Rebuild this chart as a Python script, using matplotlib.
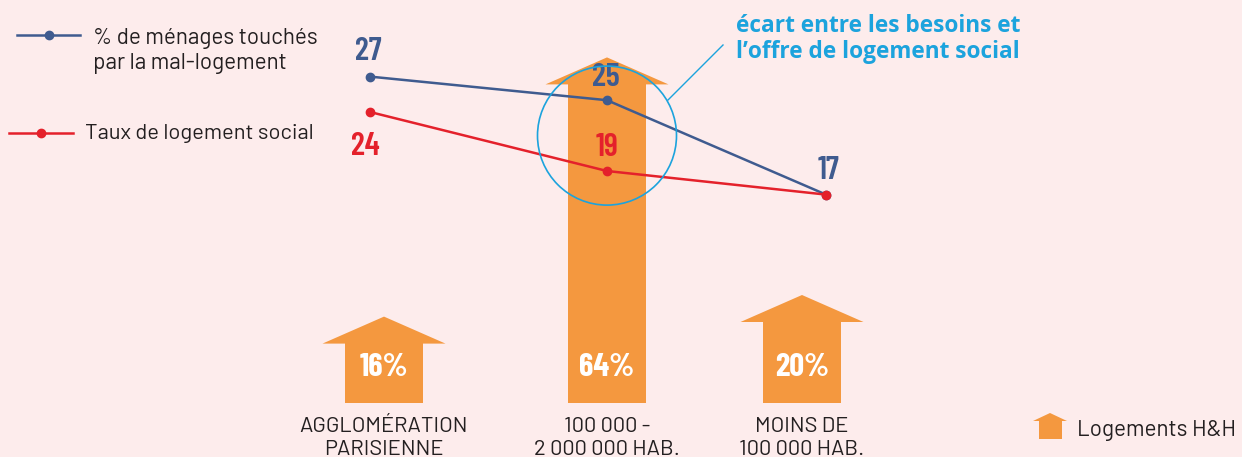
import matplotlib
matplotlib.use("Agg")
import matplotlib.pyplot as plt
from matplotlib.patches import Polygon, Ellipse
from matplotlib.lines import Line2D

# ---- data ----
categories = [["AGGLOMÉRATION", "PARISIENNE"], ["100 000 -", "2 000 000 HAB."], ["MOINS DE", "100 000 HAB."]]
logements_hh = [16, 64, 20]          # % Logements H&H (arrows)
mal_logement = [27, 25, 17]          # % de ménages touchés par le mal-logement
logement_social = [24, 19, 17]       # Taux de logement social

W, H = 1242, 457
BG = "#fdecec"
ORANGE = "#f4983f"
BLUE = "#3f5b8f"
RED = "#e4212b"
CYAN = "#1ca3dd"
TXT = "#231f20"

COND = ["Barlow Condensed", "DejaVu Sans"]
REG = ["Barlow", "DejaVu Sans"]
WIDE = ["Open Sans", "DejaVu Sans"]

fig = plt.figure(figsize=(W / 100, H / 100), dpi=100, facecolor=BG)
ax = fig.add_axes([0, 0, 1, 1])
ax.set_facecolor(BG)
ax.set_xlim(0, W)
s_bar = 5.4
base_px = H - 403
ax.set_ylim(-base_px / s_bar, (H - base_px) / s_bar)
ax.axis("off")

ax2 = ax.twinx()
s_line = 11.8
ax2.set_ylim(21.5 - (H - 141.5) / s_line, 21.5 + 141.5 / s_line)
ax2.axis("off")


def fx(px):
    return px / W


def fy(py):
    return 1 - py / H


# positions (pixels along x)
arrow_x = [384, 607, 802]
line_x = [370, 607, 826]

# ---- arrows ----
sw, hw = 39, 61.5
hl = 27 / s_bar
for c, v in zip(arrow_x, logements_hh):
    pts = [(c - sw, 0), (c + sw, 0), (c + sw, v - hl), (c + hw, v - hl), (c, v),
           (c - hw, v - hl), (c - sw, v - hl)]
    ax.add_patch(Polygon(pts, closed=True, facecolor=ORANGE, edgecolor="none", zorder=1))
    fig.text(fx(c), fy(376), f"{v}%", color="white", fontsize=23.5, fontweight="bold",
             family=COND, ha="center", va="baseline", zorder=2)

for c, lab in zip(arrow_x, categories):
    fig.text(fx(c), fy(432), lab[0], color=TXT, fontsize=15.8, family=REG,
             ha="center", va="baseline")
    fig.text(fx(c), fy(455), lab[1], color=TXT, fontsize=15.8, family=REG,
             ha="center", va="baseline")

# ---- lines ----
ax2.plot(line_x, mal_logement, color=BLUE, lw=1.8, marker="o", ms=6, zorder=4)
ax2.plot(line_x, logement_social, color=RED, lw=1.8, marker="o", ms=6, zorder=5)

blue_off = [(-1, 12), (-1, 10), (2, 11)]
for x, v, o in zip(line_x, mal_logement, blue_off):
    ax2.annotate(f"{v}", (x, v), xytext=o, textcoords="offset points", color=BLUE,
                 fontsize=23.5, fontweight="semibold", family=COND, ha="center",
                 va="baseline", zorder=6)
red_off = [(-3.5, -31), (0, 11), None]
for x, v, o in zip(line_x, logement_social, red_off):
    if o is None:
        continue
    ax2.annotate(f"{v}", (x, v), xytext=o, textcoords="offset points", color=RED,
                 fontsize=23.5, fontweight="semibold", family=COND, ha="center",
                 va="baseline", zorder=6)

# circle highlighting the gap
cy = (mal_logement[1] + logement_social[1]) / 2
r_px = 69.5
ax2.add_patch(Ellipse((line_x[1], cy), 2 * r_px, 2 * r_px / s_line, facecolor="none",
                      edgecolor=CYAN, lw=1.2, zorder=7))

fig.add_artist(Line2D([fx(668), fx(723)], [fy(100), fy(45)], color=CYAN, lw=1.0))
fig.text(fx(736), fy(32), "écart entre les besoins et", color=CYAN,
         fontsize=16.3, fontweight="bold", family=WIDE, ha="left", va="baseline")
fig.text(fx(736), fy(58), "l’offre de logement social", color=CYAN,
         fontsize=16.3, fontweight="bold", family=WIDE, ha="left", va="baseline")

# ---- legend (top-left) ----
fig.add_artist(Line2D([fx(17), fx(80)], [fy(35), fy(35)], color=BLUE, lw=1.8))
fig.add_artist(Line2D([fx(49)], [fy(35)], color=BLUE, marker="o", ms=6))
fig.text(fx(93), fy(44), "% de ménages touchés", color=TXT, fontsize=16.2,
         family=REG, ha="left", va="baseline")
fig.text(fx(93), fy(69), "par la mal-logement", color=TXT, fontsize=16.2,
         family=REG, ha="left", va="baseline")
fig.add_artist(Line2D([fx(9), fx(73)], [fy(133), fy(133)], color=RED, lw=1.8))
fig.add_artist(Line2D([fx(41)], [fy(133)], color=RED, marker="o", ms=6))
fig.text(fx(85), fy(139), "Taux de logement social", color=TXT, fontsize=15.8,
         family=REG, ha="left", va="baseline")

# ---- legend (bottom-right) ----
icon = [(1039, 439), (1062, 439), (1062, 421), (1067, 421), (1050, 413), (1033, 421), (1039, 421)]
fig.add_artist(Polygon([(fx(a), fy(b)) for a, b in icon], closed=True, facecolor=ORANGE,
                       edgecolor="none", transform=fig.transFigure))
fig.text(fx(1077), fy(436), "Logements H&H", color=TXT, fontsize=16.2, family=REG,
         ha="left", va="baseline")

fig.savefig("out.png", dpi=100, facecolor=BG)
